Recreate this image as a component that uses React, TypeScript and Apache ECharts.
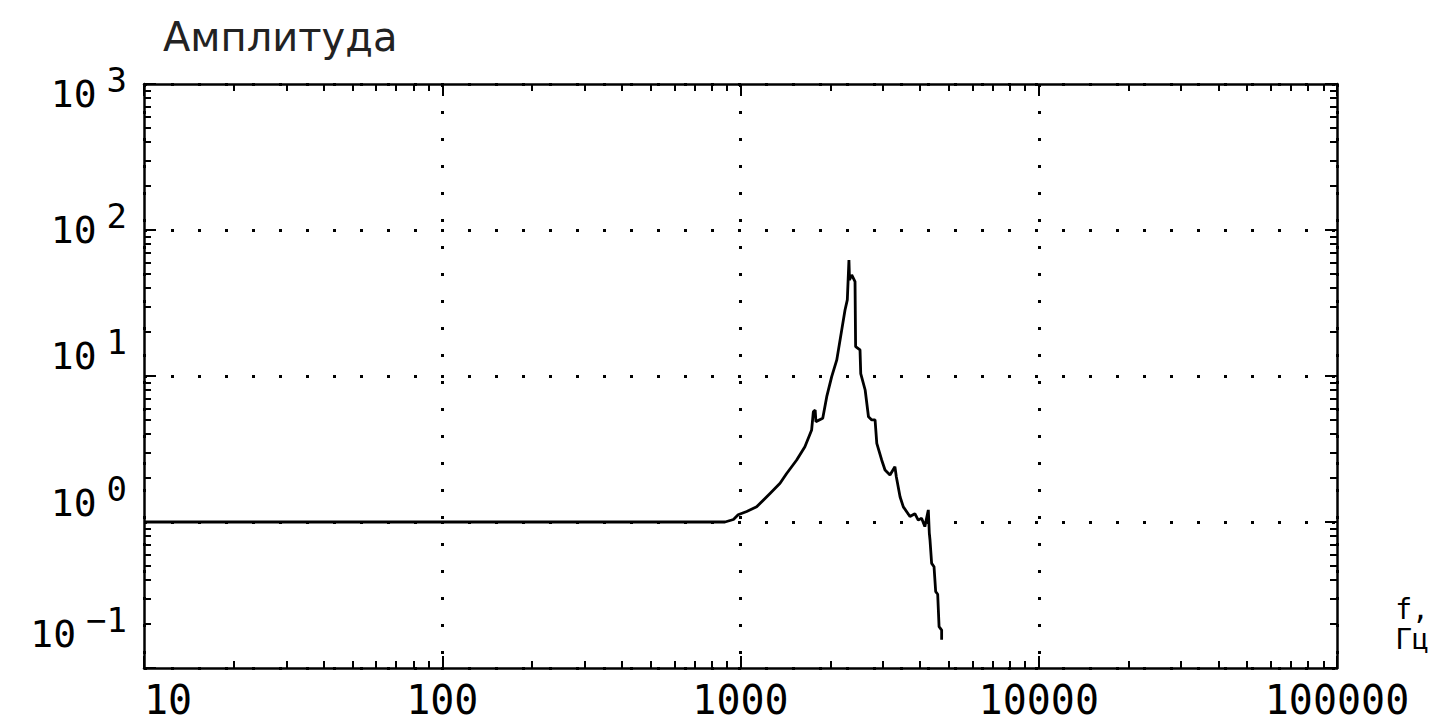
import React, { useEffect, useRef } from "react";
import * as echarts from "echarts";

// Frequency (Hz) and amplitude values
const freqHz = [
  10, 887, 947, 982, 1049, 1133, 1256, 1357, 1428, 1543, 1644, 1732, 1755, 1780,
  1790, 1887, 1946, 2022, 2103, 2185, 2241, 2281, 2310, 2320, 2360, 2421, 2432,
  2516, 2530, 2618, 2686, 2755, 2826, 2864, 2974, 3052, 3171, 3294, 3330, 3427,
  3515, 3700, 3843, 3944, 4047, 4150, 4263, 4296, 4319, 4374, 4455, 4513, 4583,
  4632, 4725, 4725,
];
const amplitude = [
  1.0, 1.0, 1.04, 1.12, 1.18, 1.27, 1.57, 1.84, 2.15, 2.66, 3.28, 4.27, 5.69, 5.85,
  4.87, 5.13, 7.22, 9.89, 12.9, 20.7, 28.3, 33.2, 62.3, 45.5, 49.2, 44.3, 15.9,
  15.1, 10.4, 8.02, 5.26, 5.0, 5.0, 3.46, 2.66, 2.27, 2.1, 2.39, 2.04, 1.49,
  1.27, 1.09, 1.14, 1.03, 1.06, 0.93, 1.21, 0.84, 0.753, 0.521, 0.494, 0.333, 0.32,
  0.192, 0.182, 0.156,
];

const xMin = 10;
const xMax = 100000;
const yMin = 0.1;
const yMax = 1000;
const minorMultipliers = [2, 3, 4, 5, 6, 7, 8, 9];
const xDecades = [10, 100, 1000, 10000];
const yDecades = [0.1, 1, 10, 100];
const yExponents = [-1, 0, 1, 2, 3];
const yAxisTitle = "Амплитуда";
const xAxisTitle = "f,\nГц";

const xMinorTicks = xDecades.flatMap((d) => minorMultipliers.map((m) => +(d * m).toPrecision(6)));
const yMinorTicks = yDecades.flatMap((d) => minorMultipliers.map((m) => +(d * m).toPrecision(6)));

// per-label vertical placement (spacer line heights), as in the reference layout
const yLabelSpacer: Record<string, number> = { "-1": 150, "0": 120, "1": 122, "2": 82, "3": 62 };

const MONO = "'DejaVu Sans Mono', monospace";
const SANS = "'DejaVu Sans', sans-serif";

export default function App() {
  const ref = useRef<HTMLDivElement>(null);

  useEffect(() => {
    if (!ref.current) return;
    const chart = echarts.init(ref.current, undefined, { renderer: "svg" });

    const lineStyle = { color: "#000", width: 2.5 };
    const tickStyle = { color: "#000", width: 2 };
    const gridStyle = { color: "#000", width: 3, type: [3, 24] as number[] };

    const baseX = { type: "log", logBase: 10, min: xMin, max: xMax, gridIndex: 0 };
    const baseY = { type: "log", logBase: 10, min: yMin, max: yMax, gridIndex: 0 };

    const majorAxis = (pos: string, extra: any = {}) => ({
      position: pos,
      axisLine: { show: true, onZero: false, lineStyle },
      axisTick: { show: true, inside: true, length: 12, lineStyle: tickStyle },
      axisLabel: { show: false },
      splitLine: { show: false },
      ...extra,
    });
    const minorAxis = (pos: string, ticks: number[]) => ({
      position: pos,
      axisLine: { show: false, onZero: false },
      axisTick: { show: true, inside: true, length: 7, lineStyle: tickStyle, customValues: ticks },
      axisLabel: { show: false },
      splitLine: { show: false },
    });

    const rich: Record<string, any> = {
      b: { fontFamily: MONO, fontSize: 38, color: "#000", verticalAlign: "top", padding: [12, 0, 0, 0] },
      e: { fontFamily: MONO, fontSize: 34, color: "#000", verticalAlign: "top", padding: [0, 0, 0, 10] },
    };
    yExponents.forEach((e) => {
      rich["s" + (e + 1)] = { lineHeight: yLabelSpacer[String(e)], width: 0, verticalAlign: "top" };
    });

    chart.setOption({
      animation: false,
      backgroundColor: "#fff",
      grid: { left: 144, right: 97, top: 84, bottom: 55, containLabel: false },
      xAxis: [
        {
          ...baseX,
          ...majorAxis("bottom", {
            axisLabel: {
              show: true,
              color: "#000",
              fontFamily: MONO,
              fontSize: 40,
              margin: 12,
              alignMinLabel: "left",
              showMinLabel: true,
              showMaxLabel: true,
              formatter: (v: number) => String(Math.round(v)),
            },
            splitLine: { show: true, lineStyle: gridStyle },
            name: xAxisTitle,
            nameLocation: "end",
            nameGap: 75,
            nameTextStyle: {
              color: "#000",
              fontFamily: MONO,
              fontSize: 28,
              lineHeight: 30,
              align: "center",
              verticalAlign: "bottom",
              padding: [0, 0, 14, 0],
            },
          }),
        },
        { ...baseX, ...minorAxis("bottom", xMinorTicks) },
        { ...baseX, ...majorAxis("top") },
        { ...baseX, ...minorAxis("top", xMinorTicks) },
      ],
      yAxis: [
        {
          ...baseY,
          ...majorAxis("left", {
            axisLabel: {
              show: true,
              color: "#000",
              margin: 17,
              padding: [20, 0, 0, 0],
              showMinLabel: true,
              showMaxLabel: true,
              formatter: (v: number) => {
                const e = Math.round(Math.log10(v));
                const s = e < 0 ? "\u2212" + Math.abs(e) : String(e);
                return `{b|10}{e|${s}}{s${e + 1}|}`;
              },
              rich,
            },
            splitLine: { show: true, lineStyle: gridStyle },
            name: yAxisTitle,
            nameLocation: "end",
            nameGap: 27,
            nameTextStyle: {
              color: "#222",
              fontFamily: SANS,
              fontSize: 40,
              align: "left",
              verticalAlign: "bottom",
              padding: [0, 0, 0, 19],
            },
          }),
        },
        { ...baseY, ...minorAxis("left", yMinorTicks) },
        { ...baseY, ...majorAxis("right") },
        { ...baseY, ...minorAxis("right", yMinorTicks) },
      ],
      series: [
        {
          type: "line",
          xAxisIndex: 0,
          yAxisIndex: 0,
          data: freqHz.map((f, i) => [f, amplitude[i]]),
          showSymbol: false,
          symbol: "none",
          lineStyle: { color: "#000", width: 2.8 },
          clip: true,
        },
      ],
    });

    return () => chart.dispose();
  }, []);

  return (
    <div
      ref={ref}
      style={{ position: "absolute", left: 0, top: 0, width: 1434, height: 723 }}
    />
  );
}
